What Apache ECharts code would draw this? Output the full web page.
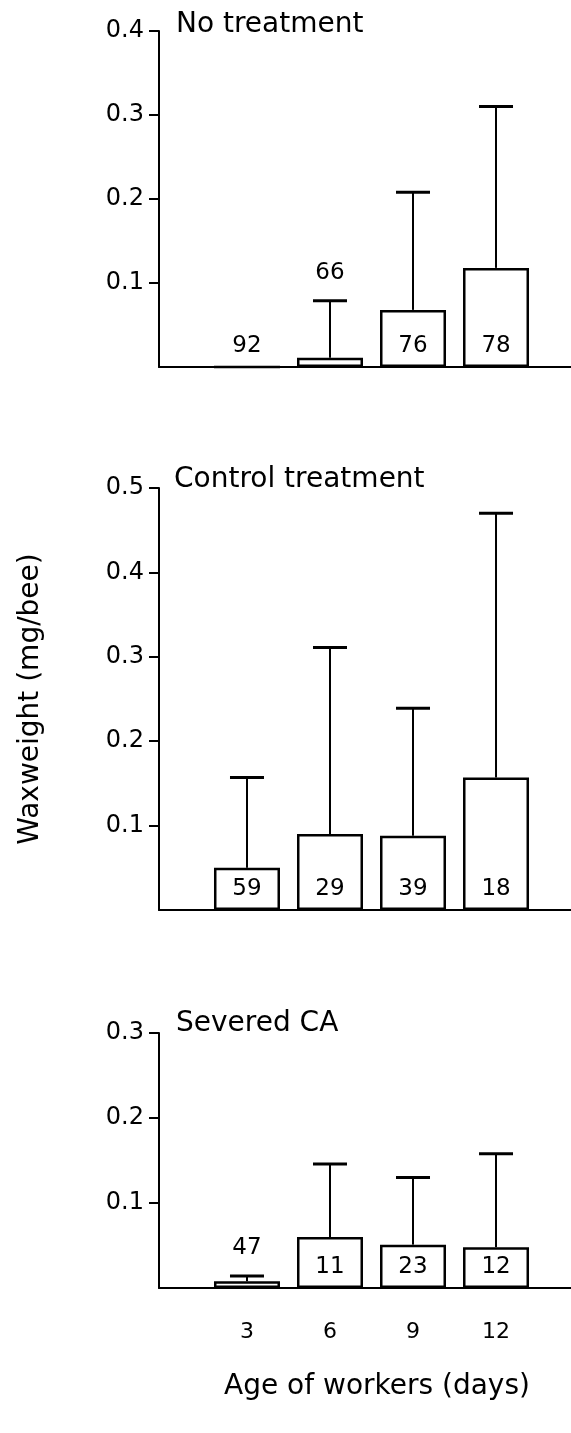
<!DOCTYPE html>
<html>
<head>
<meta charset="utf-8">
<title>Waxweight by age of workers</title>
<script src="https://cdn.jsdelivr.net/npm/echarts@6/dist/echarts.min.js"></script>
<style>
  html, body { margin: 0; padding: 0; background: #fff; }
  #wax_chart { width: 571px; height: 1433px; }
</style>
</head>
<body>
<div id="wax_chart"></div>
<script>
/* ages of the workers (days) */
var days = [3, 6, 9, 12];

/* No treatment: mean, top of error bar, sample size */
var noMean  = [0, 0.011, 0.068, 0.118];
var noUpper = [0, 0.079, 0.208, 0.310];
var noN     = [92, 66, 76, 78];

/* Control treatment */
var ctlMean  = [0.050, 0.090, 0.088, 0.157];
var ctlUpper = [0.157, 0.311, 0.239, 0.470];
var ctlN     = [59, 29, 39, 18];

/* Severed CA */
var sevMean  = [0.008, 0.060, 0.051, 0.048];
var sevUpper = [0.014, 0.146, 0.130, 0.158];
var sevN     = [47, 11, 23, 12];

var yTicksNo  = [0.1, 0.2, 0.3, 0.4];
var yTicksCtl = [0.1, 0.2, 0.3, 0.4, 0.5];
var yTicksSev = [0.1, 0.2, 0.3];

var panelTitles = ['No treatment', 'Control treatment', 'Severed CA'];

(function(){
	var FONT = '"DejaVu Sans", "Liberation Sans", sans-serif';
	var myChart = echarts.init(document.getElementById('wax_chart'));

	function pairs(mean){
		return days.map(function(d, i){ return [d, mean[i]]; });
	}
	function errData(mean, upper, n){
		return days.map(function(d, i){ return [d, mean[i], upper[i], n[i]]; });
	}

	// error bar (stem + cap) and the sample size text
	function renderErr(params, api){
		var x = api.value(0), m = api.value(1), u = api.value(2), n = api.value(3);
		var base = api.coord([x, 0]);
		var top = api.coord([x, m]);
		var hi = api.coord([x, u]);
		var kids = [];
		var hasErr = u > m;
		if (hasErr) {
			kids.push({
				type: 'line',
				shape: { x1: hi[0], y1: top[1], x2: hi[0], y2: hi[1] },
				style: { stroke: '#000', lineWidth: 2 }
			});
			kids.push({
				type: 'line',
				shape: { x1: hi[0] - 17, y1: hi[1], x2: hi[0] + 17, y2: hi[1] },
				style: { stroke: '#000', lineWidth: 3 }
			});
		}
		var above = hasErr && (base[1] - top[1]) < 30;
		kids.push({
			type: 'text',
			x: hi[0],
			y: above ? hi[1] - 28 : base[1] - 21,
			style: {
				text: String(n),
				align: 'center',
				verticalAlign: 'middle',
				fontSize: 23,
				fontFamily: FONT,
				fill: '#000'
			}
		});
		return { type: 'group', children: kids };
	}

	function xAxisFor(idx, showLabels){
		var ax = {
			type: 'value',
			gridIndex: idx,
			min: -0.18,
			max: 14.71,
			axisLine: { onZero: false, lineStyle: { color: '#000', width: 2 } },
			axisTick: { show: false },
			splitLine: { show: false },
			axisLabel: { show: false }
		};
		if (showLabels) {
			ax.axisLabel = {
				show: true,
				customValues: days,
				color: '#000',
				fontSize: 22,
				fontFamily: FONT,
				margin: 33
			};
			ax.name = 'Age of workers (days)';
			ax.nameLocation = 'middle';
			ax.nameGap = 85;
			ax.nameTextStyle = { color: '#000', fontSize: 28, fontFamily: FONT, padding: [0, 0, 0, 24] };
		}
		return ax;
	}

	function yAxisFor(idx, max, ticks){
		return {
			type: 'value',
			gridIndex: idx,
			min: 0,
			max: max,
			interval: 0.1,
			axisLine: { show: true, onZero: false, lineStyle: { color: '#000', width: 2 } },
			axisTick: { show: true, inside: false, length: 10, customValues: ticks, lineStyle: { color: '#000', width: 2 } },
			splitLine: { show: false },
			axisLabel: {
				customValues: ticks,
				color: '#000',
				fontSize: 24,
				fontFamily: FONT,
				margin: 15,
				formatter: function(v){ return v.toFixed(1); }
			}
		};
	}

	function barSeries(idx, mean){
		return {
			type: 'bar',
			xAxisIndex: idx,
			yAxisIndex: idx,
			barWidth: 66,
			itemStyle: { color: '#fff', borderColor: '#000', borderWidth: 2.5 },
			data: pairs(mean),
			z: 2
		};
	}

	function errSeries(idx, mean, upper, n){
		return {
			type: 'custom',
			xAxisIndex: idx,
			yAxisIndex: idx,
			renderItem: renderErr,
			encode: { x: 0, y: [1, 2] },
			data: errData(mean, upper, n),
			z: 3
		};
	}

	var titleStyle = { color: '#000', fontSize: 28, fontWeight: 'normal', fontFamily: FONT };

	var yMid = yAxisFor(1, 0.5, yTicksCtl);
	yMid.name = 'Waxweight (mg/bee)';
	yMid.nameLocation = 'middle';
	yMid.nameGap = 114;
	yMid.nameTextStyle = { color: '#000', fontSize: 28, fontFamily: FONT };

	var option = {
		backgroundColor: '#fff',
		animation: false,
		title: [
			{ text: panelTitles[0], left: 176, top: 11, padding: 0, textStyle: titleStyle },
			{ text: panelTitles[1], left: 174, top: 466, padding: 0, textStyle: titleStyle },
			{ text: panelTitles[2], left: 176, top: 1010, padding: 0, textStyle: titleStyle }
		],
		grid: [
			{ left: 159, right: 0, top: 31, height: 336 },
			{ left: 159, right: 0, top: 488, height: 422 },
			{ left: 159, right: 0, top: 1033, height: 255 }
		],
		xAxis: [
			xAxisFor(0, false),
			xAxisFor(1, false),
			xAxisFor(2, true)
		],
		yAxis: [
			yAxisFor(0, 0.4, yTicksNo),
			yMid,
			yAxisFor(2, 0.3, yTicksSev)
		],
		series: [
			barSeries(0, noMean),
			errSeries(0, noMean, noUpper, noN),
			barSeries(1, ctlMean),
			errSeries(1, ctlMean, ctlUpper, ctlN),
			barSeries(2, sevMean),
			errSeries(2, sevMean, sevUpper, sevN)
		]
	};
	myChart.setOption(option);
})();
</script>
</body>
</html>
